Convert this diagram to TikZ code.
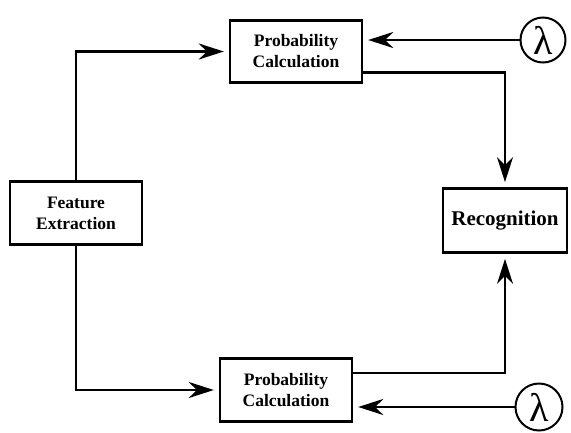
\documentclass[tikz,border=0pt]{standalone}
\usepackage{fontspec}
\setmainfont{Liberation Serif}
\usetikzlibrary{arrows.meta}

\begin{document}
\begin{tikzpicture}[x=1pt,y=-1pt,
  box/.style={draw, line width=2.4pt, align=center, font=\bfseries\fontsize{17.5}{21}\selectfont, inner sep=0pt},
  lam/.style={draw, circle, line width=2pt, inner sep=0pt, font=\fontsize{40}{40}\selectfont},
  arr/.style={line width=2.4pt, -{Stealth[length=25pt, width=16pt, inset=8pt]}, shorten >=5pt}]
\useasboundingbox (0,0) rectangle (571,432);
%% blocks
\node[box, minimum width=132pt, minimum height=63pt] (fe) at (76,213) {Feature\\Extraction};
\node[box, minimum width=132pt, minimum height=62pt] (pc1) at (296,51.5) {Probability\\Calculation};
\node[box, minimum width=132pt, minimum height=63pt] (pc2) at (286,390) {Probability\\Calculation};
\node[box, line width=2.8pt, minimum width=124pt, minimum height=64pt, font=\bfseries\fontsize{21}{24}\selectfont] (rec) at (505,220.5) {Recognition};
\node[lam, minimum size=45pt] (lam1) at (543,40) {λ};
\node[lam, minimum size=47pt] (lam2) at (539,407) {λ};
%% connectors
\draw[arr] (fe.north) |- (pc1.west); %%Top
\draw[arr] (fe.south) |- (pc2.west); %%Bottom
\draw[arr] ([yshift=-21pt]pc1.east) -| (rec.north);
\draw[arr] ([yshift=17pt]pc2.east) -| (rec.south);
\draw[arr] (lam1.west) -- (pc1.east |- lam1.west);
\draw[arr] (lam2.west) -- (pc2.east |- lam2.west);
\end{tikzpicture}
\end{document}
